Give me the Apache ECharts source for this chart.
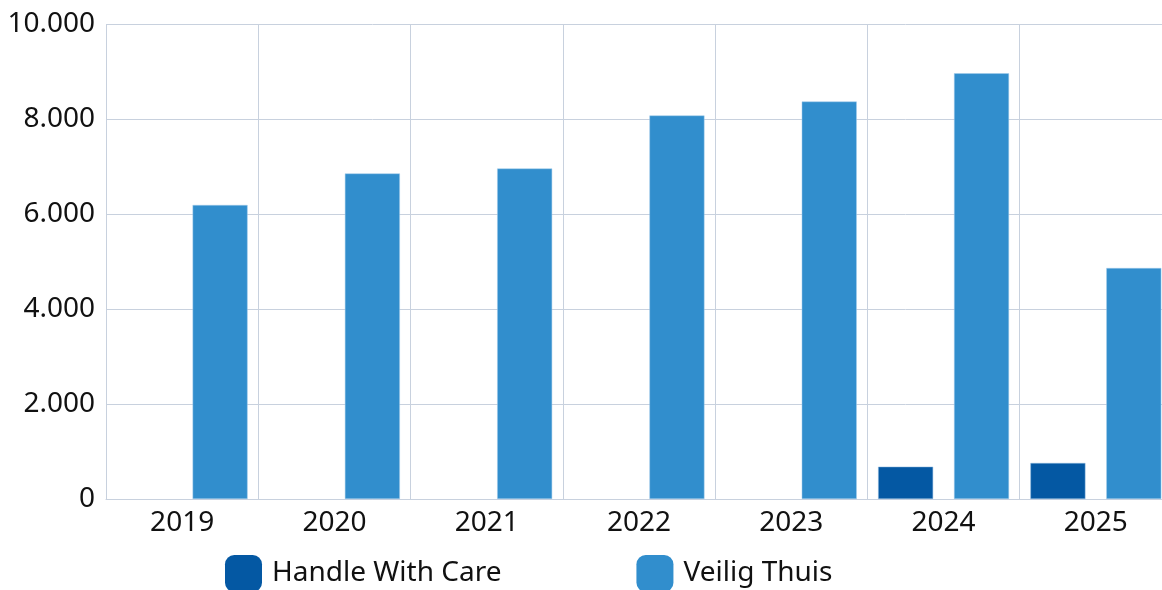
<!DOCTYPE html>
<html>
<head>
<meta charset="utf-8">
<script src="https://cdn.jsdelivr.net/npm/echarts@6/dist/echarts.min.js"></script>
<style>
html,body{margin:0;padding:0;overflow:hidden;background:#fff;}
#c{width:1172px;height:590px;}
</style>
</head>
<body>
<div id="c"></div>
<script>
const categories = ['2019','2020','2021','2022','2023','2024','2025'];
const handleWithCare = [null, null, null, null, null, 680, 758];
const veiligThuis = [6190, 6853, 6958, 8074, 8368, 8962, 4863];
const seriesNames = ['Handle With Care', 'Veilig Thuis'];

function fmt(v){ return String(v).replace(/\B(?=(\d{3})+(?!\d))/g, '.'); }

const chart = echarts.init(document.getElementById('c'), null, {renderer:'canvas'});
const font = "'Noto Sans', 'Open Sans', sans-serif";
chart.setOption({
  animation:false,
  textStyle:{fontFamily:font},
  grid:{left:106, right:0, top:24, bottom:91, containLabel:false},
  legend:{
    left:225, top:555, itemWidth:37, itemHeight:37, itemGap:135, icon:'roundRect',
    padding:0,
    itemStyle:{borderWidth:0},
    textStyle:{fontSize:28, color:'#111', fontFamily:font, padding:[0,0,0,5]},
    data: seriesNames
  },
  xAxis:{
    type:'category', data:categories,
    axisLine:{show:true, lineStyle:{color:'#c8d1de', width:1}},
    axisTick:{show:false},
    splitLine:{show:true, lineStyle:{color:'#c8d1de', width:1}},
    axisLabel:{fontSize:28, color:'#111', margin:10, fontFamily:font}
  },
  yAxis:{
    type:'value', min:0, max:10000, interval:2000,
    axisLine:{show:false}, axisTick:{show:false},
    splitLine:{lineStyle:{color:'#c8d1de', width:1}},
    axisLabel:{fontSize:28, color:'#111', margin:11, formatter:fmt, fontFamily:font}
  },
  series:[
    {name:seriesNames[0], type:'bar', data:handleWithCare, barWidth:55, barGap:'38%',
     itemStyle:{color:'#0458a3', borderColor:'#8fb8de', borderWidth:0.5}},
    {name:seriesNames[1], type:'bar', data:veiligThuis, barWidth:55, barGap:'38%',
     itemStyle:{color:'#318ecd', borderColor:'#a5cdea', borderWidth:0.5}}
  ]
});
</script>
</body>
</html>
